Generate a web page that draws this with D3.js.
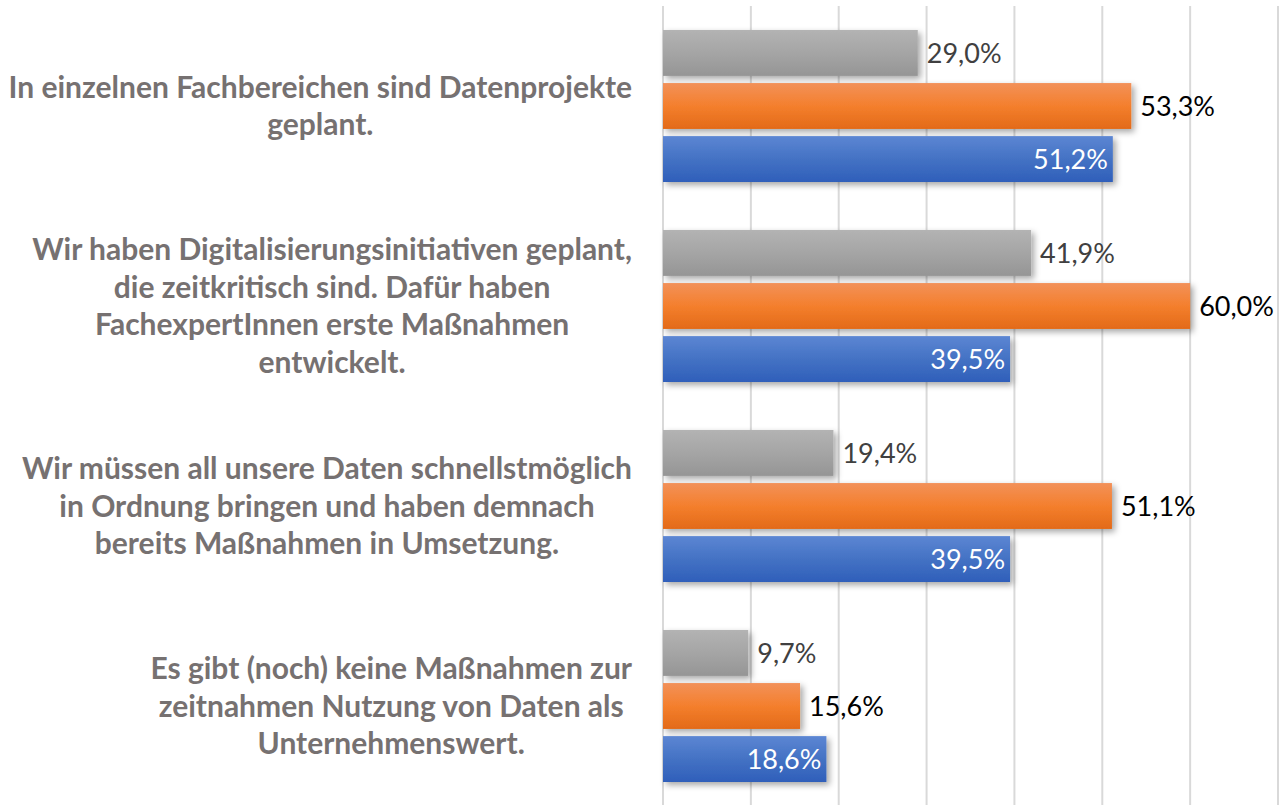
<!DOCTYPE html>
<html>
<head>
<meta charset="utf-8">
<style>
  html, body { margin: 0; padding: 0; background: #fff; }
  svg { display: block; }
  .cat-label { font-family: Lato, "Open Sans", sans-serif; font-weight: 700; fill: #767171; }
  .val-label { font-family: Lato, "Open Sans", sans-serif; font-weight: 400; }
</style>
</head>
<body>
<svg width="1286" height="805" id="chart"></svg>
<script src="https://cdn.jsdelivr.net/npm/d3@7"></script>
<script>
// ---------------- data ----------------
var categories = [
  ["In einzelnen Fachbereichen sind Datenprojekte", "geplant."],
  ["Wir haben Digitalisierungsinitiativen geplant,", "die zeitkritisch sind. Dafür haben", "FachexpertInnen erste Maßnahmen", "entwickelt."],
  ["Wir müssen all unsere Daten schnellstmöglich", "in Ordnung bringen und haben demnach", "bereits Maßnahmen in Umsetzung."],
  ["Es gibt (noch) keine Maßnahmen zur", "zeitnahmen Nutzung von Daten als", "Unternehmenswert."]
];
var seriesNames = ["grau", "orange", "blau"];
var valuesGrau   = [29.0, 41.9, 19.4, 9.7];
var valuesOrange = [53.3, 60.0, 51.1, 15.6];
var valuesBlau   = [51.2, 39.5, 39.5, 18.6];
var xTicks = [0, 10, 20, 30, 40, 50, 60, 70];

var seriesValues = [valuesGrau, valuesOrange, valuesBlau];

// ---------------- layout ----------------
var svg = d3.select("#chart");
var W = 1286, H = 805;
var plotLeft = 663, plotRight = 1278;

var x = d3.scaleLinear().domain([0, 70]).range([plotLeft, plotRight]);
var y0 = d3.scaleBand().domain(d3.range(categories.length)).range([6, 806])
    .paddingInner(0.24).paddingOuter(0.12);
var y1 = d3.scaleBand().domain(seriesNames).range([0, y0.bandwidth()]).paddingInner(0.135);

// gradients + shadow
var defs = svg.append("defs");
var grads = {
  grau:   ["#b3b3b3", "#a5a5a5", "#959595"],
  orange: ["#f29159", "#f47f2d", "#e36a18"],
  blau:   ["#5c86d3", "#4472c4", "#2f5fba"]
};
seriesNames.forEach(function(s) {
  var lg = defs.append("linearGradient").attr("id", "g-" + s)
      .attr("x1", 0).attr("y1", 0).attr("x2", 0).attr("y2", 1);
  lg.append("stop").attr("offset", "0%").attr("stop-color", grads[s][0]);
  lg.append("stop").attr("offset", "50%").attr("stop-color", grads[s][1]);
  lg.append("stop").attr("offset", "100%").attr("stop-color", grads[s][2]);
});
var f = defs.append("filter").attr("id", "shadow")
    .attr("x", "-10%").attr("y", "-30%").attr("width", "130%").attr("height", "170%");
f.append("feDropShadow").attr("dx", 3).attr("dy", 3).attr("stdDeviation", 3)
    .attr("flood-color", "#000").attr("flood-opacity", 0.35);

// gridlines
svg.append("g").attr("class", "grid")
  .selectAll("line").data(xTicks).enter().append("line")
    .attr("x1", function(d) { return x(d); })
    .attr("x2", function(d) { return x(d); })
    .attr("y1", 6).attr("y2", H)
    .attr("stroke", "#d9d9d9").attr("stroke-width", 2);

// bars
var groups = svg.selectAll(".cat").data(categories).enter().append("g")
    .attr("class", "cat")
    .attr("transform", function(d, i) { return "translate(0," + y0(i) + ")"; });

var labelColors = { grau: "#404040", orange: "#000000", blau: "#ffffff" };

groups.each(function(c, i) {
  var g = d3.select(this);
  var rows = seriesNames.map(function(s, k) { return { s: s, v: seriesValues[k][i] }; });

  g.selectAll("rect").data(rows).enter().append("rect")
      .attr("x", x(0))
      .attr("y", function(d) { return y1(d.s); })
      .attr("width", function(d) { return x(d.v) - x(0); })
      .attr("height", y1.bandwidth())
      .attr("fill", function(d) { return "url(#g-" + d.s + ")"; })
      .attr("filter", "url(#shadow)");

  g.selectAll("text.val-label").data(rows).enter().append("text")
      .attr("class", "val-label")
      .attr("x", function(d) { return d.s === "blau" ? x(d.v) - 5 : x(d.v) + 9; })
      .attr("y", function(d) { return y1(d.s) + y1.bandwidth() / 2; })
      .attr("dy", "0.36em")
      .attr("text-anchor", function(d) { return d.s === "blau" ? "end" : "start"; })
      .style("font-size", "27px")
      .attr("fill", function(d) { return labelColors[d.s]; })
      .text(function(d) { return d3.format(".1f")(d.v).replace(".", ",") + "%"; });
});

// category labels: lines centred in a block, block right-aligned at the axis
var lineH = 37.5;
categories.forEach(function(lines, i) {
  var cy = y0(i) + y0.bandwidth() / 2;
  var t = svg.append("text").attr("class", "cat-label").style("font-size", "30px")
      .attr("text-anchor", "middle");
  var spans = lines.map(function(l, k) {
    return t.append("tspan")
      .attr("y", cy + (k - (lines.length - 1) / 2) * lineH)
      .attr("dy", "0.35em")
      .text(l);
  });
  var maxW = d3.max(spans, function(s) { return s.node().getComputedTextLength(); });
  var cx = 632 - maxW / 2;
  spans.forEach(function(s) { s.attr("x", cx); });
});
</script>
</body>
</html>
